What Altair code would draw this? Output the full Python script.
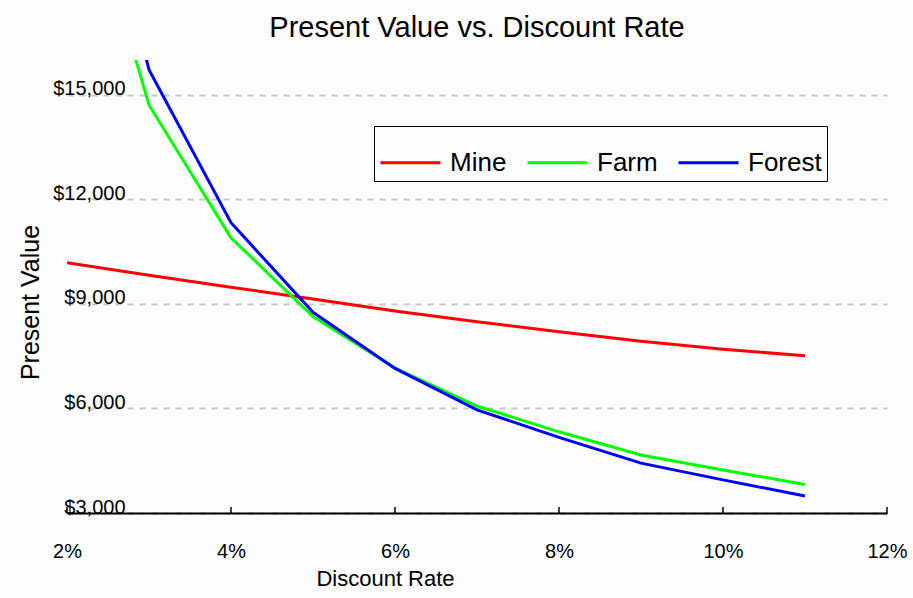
import altair as alt
import pandas as pd

rates = [2, 3, 4, 5, 6, 7, 8, 9, 10, 11]
mine = [10180, 9820, 9480, 9140, 8800, 8490, 8200, 7930, 7700, 7510]
farm = [22770, 14710, 10900, 8640, 7160, 6070, 5330, 4665, 4235, 3820]
forest = [25070, 15720, 11330, 8760, 7150, 5960, 5170, 4430, 3950, 3490]
series_names = ["Mine", "Farm", "Forest"]
series_colors = ["#ff0000", "#00ff00", "#0000ff"]
x_ticks = [2, 4, 6, 8, 10, 12]
y_ticks = [3000, 6000, 9000, 12000, 15000]

rows = []
for name, vals in zip(series_names, [mine, farm, forest]):
    for r, v in zip(rates, vals):
        rows.append({"rate": r, "value": v, "series": name, "order": series_names.index(name)})
df = pd.DataFrame(rows)
ticks_df = pd.DataFrame({"rate": x_ticks})

W, H = 820, 453
FONT = "Liberation Sans"

x_scale = alt.Scale(domain=[2, 12], nice=False)
y_scale = alt.Scale(domain=[3000, 16000], nice=False)

lines = alt.Chart(df).mark_line(strokeWidth=3, clip=True).encode(
    x=alt.X("rate:Q", scale=x_scale,
            axis=alt.Axis(values=x_ticks, labelExpr="datum.value + '%'", title="Discount Rate",
                          grid=False, ticks=False, domainColor="#000000", domainWidth=2,
                          labelFlush=False, labelOverlap=False,
                          labelPadding=28, labelFontSize=20, labelColor="#000000", labelFont=FONT,
                          titleFontSize=22, titleFont=FONT, titleFontWeight="normal", titleColor="#000000",
                          titleX=318, titleY=65, titleBaseline="middle")),
    y=alt.Y("value:Q", scale=y_scale,
            axis=alt.Axis(values=y_ticks, format="$,.0f", title="Present Value",
                          domain=False, ticks=False, grid=True, gridDash=[6, 6], gridColor="#c8c8c8",
                          gridWidth=2, labelPadding=-58, labelAlign="right", labelBaseline="alphabetic",
                          labelFontSize=20, labelColor="#000000", labelFont=FONT, labelFlush=False,
                          titleFontSize=25, titleFont=FONT, titleFontWeight="normal", titleColor="#000000",
                          titleX=-37, titleY=242, titleBaseline="middle")),
    color=alt.Color("series:N", scale=alt.Scale(domain=series_names, range=series_colors),
                    legend=alt.Legend(title=None, orient="none", legendX=307, legendY=66,
                                      direction="horizontal", columns=3, symbolType="stroke",
                                      symbolSize=3600, symbolStrokeWidth=3, labelFontSize=26,
                                      labelFont=FONT, labelColor="#000000", columnPadding=14,
                                      labelOffset=8, padding=5, strokeColor="#000000",
                                      fillColor="#fcfcfc")),
    order=alt.Order("order:Q"),
    detail="series:N",
)

tick_marks = alt.Chart(ticks_df).mark_rule(color="#000000", strokeWidth=1.5).encode(
    x=alt.X("rate:Q", scale=x_scale),
    y=alt.value(H - 6),
    y2=alt.value(H),
)

chart = alt.layer(lines, tick_marks).properties(
    width=W, height=H,
    title=alt.TitleParams("Present Value vs. Discount Rate", fontSize=29, font=FONT,
                          fontWeight="normal", color="#000000", anchor="middle", offset=17),
    background="#fcfcfc",
    padding={"left": 67, "top": 60, "right": 26, "bottom": 85},
    autosize=alt.AutoSizeParams(type="none"),
).configure_view(stroke=None)

chart.save("out.html", embed_options={"renderer": "svg", "actions": False})
